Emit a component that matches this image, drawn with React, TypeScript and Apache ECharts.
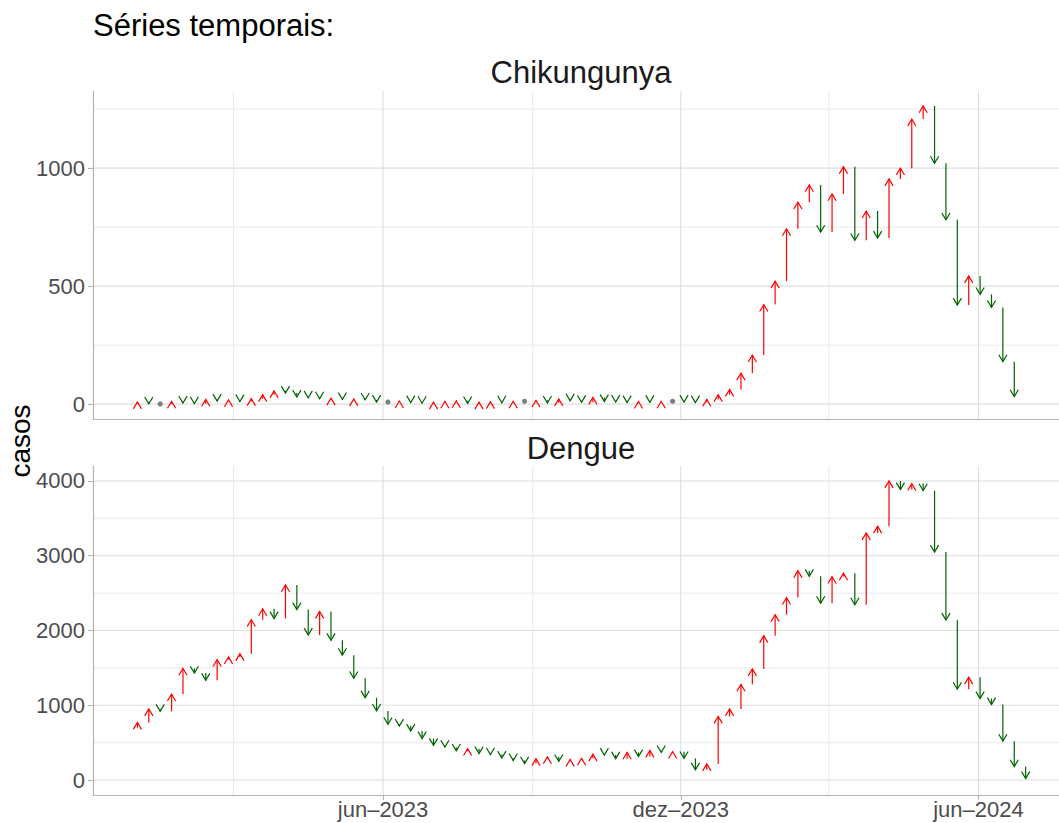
import React, { useEffect, useRef } from "react";
import * as echarts from "echarts";

// First entry is the lag week (2022-12-25); arrows start at 2023-01-01
const firstWeek = "2022-12-25";
const chikValues = [3, 9, 1, 1, 12, 5, 2, 20, 13, 18, 11, 23, 40, 56, 47, 30, 27, 23, 25, 20, 22, 18, 9, 9, 13, 7, 4, 8, 12, 14, 3, 8, 10, 6, 12, 12, 16, 5, 22, 14, 8, 28, 11, 9, 7, 11, 8, 12, 12, 9, 7, 20, 40, 62, 131, 208, 422, 521, 743, 856, 929, 729, 891, 1006, 694, 818, 704, 954, 1000, 1208, 1264, 1021, 781, 420, 543, 465, 410, 180, 32];
const dengueValues = [700, 770, 950, 920, 1150, 1494, 1430, 1335, 1610, 1645, 1690, 2145, 2290, 2160, 2610, 2280, 1940, 2255, 1870, 1670, 1360, 1100, 925, 745, 722, 656, 555, 465, 440, 390, 420, 355, 340, 295, 262, 220, 285, 310, 250, 275, 290, 345, 335, 285, 370, 315, 395, 370, 380, 290, 138, 215, 850, 950, 1280, 1485, 1930, 2210, 2440, 2800, 2725, 2365, 2720, 2765, 2345, 3305, 3395, 4000, 3885, 3965, 3870, 3050, 2140, 1215, 1375, 1090, 1010, 520, 180, 20];

const xMajorDates = ["2023-06-01", "2023-12-01", "2024-06-01"];
const xMajorLabels = ["jun\u20132023", "dez\u20132023", "jun\u20132024"];
const xMinorDates = ["2023-03-01", "2023-09-01", "2024-03-01"];
const chikMajorTicks = [0, 500, 1000];
const chikMinorTicks = [250, 750, 1250];
const dengueMajorTicks = [0, 1000, 2000, 3000, 4000];
const dengueMinorTicks = [500, 1500, 2500, 3500];

const DAY = 86400000;
const T0 = Date.UTC(2023, 0, 1);
const dayOf = (s: string) => {
  const [y, m, d] = s.split("-").map(Number);
  return (Date.UTC(y, m - 1, d) - T0) / DAY;
};
const weekDay = (k: number) => dayOf(firstWeek) + 7 * k;

const buildArrows = (vals: number[]) => {
  const out: number[][] = [];
  for (let k = 1; k < vals.length; k++) out.push([weekDay(k), vals[k - 1], vals[k]]);
  return out;
};

const FONT = '"Liberation Sans", Arial, Helvetica, sans-serif';
const MAJOR = "#DEDEDE";
const MINOR = "#E9E9E9";
const AXIS = "#B3B3B3";
const LABEL = "#4D4D4D";

// x range in days since 2023-01-01 (plot is cut at the right edge of the picture)
const X_MIN = -27.3;
const X_MAX = 566.5;

const renderArrow = (params: any, api: any) => {
  const x = api.value(0);
  const prev = api.value(1);
  const cur = api.value(2);
  const p0 = api.coord([x, prev]);
  const p1 = api.coord([x, cur]);
  if (prev === cur) {
    return { type: "circle", shape: { cx: p1[0], cy: p1[1], r: 2.6 }, style: { fill: "#7F7F7F" } };
  }
  const up = cur > prev;
  const color = up ? "#FF0000" : "#006400";
  const s = up ? 1 : -1;
  const h = 6.9;
  const w = 4.1;
  return {
    type: "group",
    children: [
      { type: "line", shape: { x1: p0[0], y1: p0[1], x2: p1[0], y2: p1[1] }, style: { stroke: color, lineWidth: 1.2 } },
      {
        type: "polyline",
        shape: { points: [[p1[0] - w, p1[1] + s * h], [p1[0], p1[1]], [p1[0] + w, p1[1] + s * h]] },
        style: { stroke: color, lineWidth: 1.2, fill: null },
      },
    ],
  };
};

const renderVGrid = (params: any, api: any) => {
  const p = api.coord([api.value(0), api.value(1)]);
  const cs = params.coordSys;
  return {
    type: "line",
    shape: { x1: p[0], y1: cs.y, x2: p[0], y2: cs.y + cs.height },
    style: { stroke: api.value(2) ? MAJOR : MINOR, lineWidth: api.value(2) ? 1.1 : 1 },
  };
};
const renderHGrid = (params: any, api: any) => {
  const p = api.coord([api.value(0), api.value(1)]);
  const cs = params.coordSys;
  return {
    type: "line",
    shape: { x1: cs.x, y1: p[1], x2: cs.x + cs.width, y2: p[1] },
    style: { stroke: api.value(2) ? MAJOR : MINOR, lineWidth: api.value(2) ? 1.1 : 1 },
  };
};

export default function App() {
  const ref = useRef<HTMLDivElement>(null);
  useEffect(() => {
    if (!ref.current) return;
    const chart = echarts.init(ref.current, undefined, { renderer: "svg" });
    const majorDays = xMajorDates.map(dayOf);
    const minorDays = xMinorDates.map(dayOf);
    const vData = (yv: number) => [
      ...majorDays.map((d) => [d, yv, 1]),
      ...minorDays.map((d) => [d, yv, 0]),
    ];
    const hData = (maj: number[], min: number[]) => [
      ...maj.map((v) => [0, v, 1]),
      ...min.map((v) => [0, v, 0]),
    ];
    const xLabel = (v: number) => {
      const i = majorDays.findIndex((d) => Math.abs(d - v) < 0.5);
      return i >= 0 ? xMajorLabels[i] : "";
    };
    const baseX = (gi: number, showLabels: boolean) => ({
      type: "value",
      gridIndex: gi,
      min: X_MIN,
      max: X_MAX,
      z: 3,
      axisLine: { show: true, onZero: false, lineStyle: { color: AXIS, width: 1.2 } },
      axisTick: showLabels
        ? { show: true, customValues: majorDays, length: 5, lineStyle: { color: AXIS, width: 1.1 } }
        : { show: false },
      axisLabel: showLabels
        ? { show: true, customValues: majorDays, formatter: xLabel, margin: 3, fontSize: 22, color: LABEL, fontFamily: FONT }
        : { show: false },
      splitLine: { show: false },
    });
    const baseY = (gi: number, min: number, max: number, ticks: number[]) => ({
      type: "value",
      gridIndex: gi,
      min,
      max,
      z: 3,
      axisLine: { show: true, onZero: false, lineStyle: { color: AXIS, width: 1.2 } },
      axisTick: { show: true, customValues: ticks, length: 5, lineStyle: { color: AXIS, width: 1.1 } },
      axisLabel: {
        show: true,
        customValues: ticks,
        formatter: (v: number) => String(v),
        margin: 8,
        fontSize: 22,
        color: LABEL,
        fontFamily: FONT,
      },
      splitLine: { show: false },
    });
    chart.setOption({
      animation: false,
      backgroundColor: "#FFFFFF",
      grid: [
        { left: 93, right: 0, top: 91, height: 328 },
        { left: 93, right: 0, top: 466, height: 329 },
      ],
      xAxis: [baseX(0, false), baseX(1, true)],
      yAxis: [baseY(0, -63, 1327, chikMajorTicks), baseY(1, -200, 4200, dengueMajorTicks)],
      graphic: [
        {
          type: "text",
          x: 93,
          y: 25,
          style: { text: "Séries temporais:", font: `31px ${FONT}`, fill: "#000000", align: "left", verticalAlign: "middle" },
        },
        {
          type: "text",
          x: 581,
          y: 72.5,
          style: { text: "Chikungunya", font: `31px ${FONT}`, fill: "#1A1A1A", align: "center", verticalAlign: "middle" },
        },
        {
          type: "text",
          x: 581,
          y: 448,
          style: { text: "Dengue", font: `31px ${FONT}`, fill: "#1A1A1A", align: "center", verticalAlign: "middle" },
        },
        {
          type: "text",
          x: 20.5,
          y: 441,
          rotation: Math.PI / 2,
          style: { text: "casos", font: `28px ${FONT}`, fill: "#000000", align: "center", verticalAlign: "middle" },
        },
      ],
      series: [
        { type: "custom", xAxisIndex: 0, yAxisIndex: 0, z: 1, silent: true, renderItem: renderVGrid, data: vData(0) },
        { type: "custom", xAxisIndex: 0, yAxisIndex: 0, z: 1, silent: true, renderItem: renderHGrid, data: hData(chikMajorTicks, chikMinorTicks) },
        { type: "custom", xAxisIndex: 1, yAxisIndex: 1, z: 1, silent: true, renderItem: renderVGrid, data: vData(0) },
        { type: "custom", xAxisIndex: 1, yAxisIndex: 1, z: 1, silent: true, renderItem: renderHGrid, data: hData(dengueMajorTicks, dengueMinorTicks) },
        {
          type: "custom",
          name: "Chikungunya",
          xAxisIndex: 0,
          yAxisIndex: 0,
          z: 5,
          renderItem: renderArrow,
          encode: { x: 0, y: [1, 2] },
          data: buildArrows(chikValues),
        },
        {
          type: "custom",
          name: "Dengue",
          xAxisIndex: 1,
          yAxisIndex: 1,
          z: 5,
          renderItem: renderArrow,
          encode: { x: 0, y: [1, 2] },
          data: buildArrows(dengueValues),
        },
      ],
    });
    return () => chart.dispose();
  }, []);
  return <div ref={ref} style={{ position: "absolute", left: 0, top: 0, width: 1059, height: 823 }} />;
}
